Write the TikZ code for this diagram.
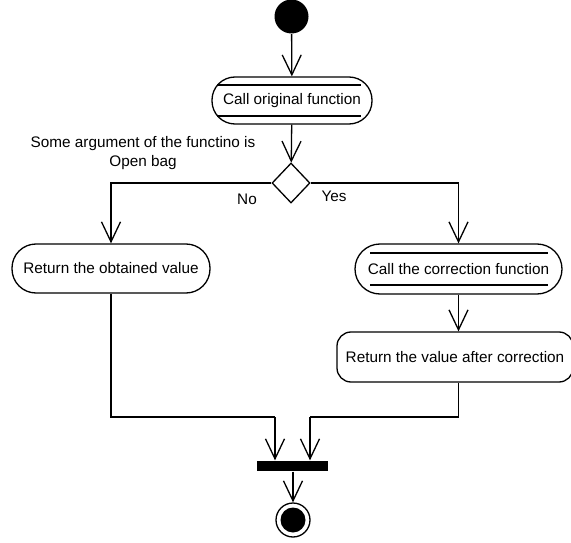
\documentclass[tikz,border=0pt]{standalone}
\usepackage{fontspec}
\setmainfont{Liberation Sans}
\usetikzlibrary{arrows.meta,shapes.geometric}
\begin{document}
\begin{tikzpicture}[x=1pt,y=-1pt,
  line width=1.3pt,
  every node/.style={font=\fontsize{15.3}{18.5}\selectfont},
  arr/.style={-{Straight Barb[length=20pt,width=19pt,line width=1.3pt]}},
  activity/.style={draw,rounded corners=#1,inner sep=0pt},
  solid dot/.style={circle,fill=black,inner sep=0pt,minimum size=#1}
]
\useasboundingbox (0,0) rectangle (571,543);

% initial node
\node[solid dot=34pt] (start) at (291.5,16.5) {};

% call of the original function (subactivity with double bars)
\node[activity=23pt,minimum width=160pt,minimum height=47pt] (call) at (292,100.5) {Call original function};
\draw (217,85) -- (361,85);
\draw (217,116) -- (361,116);

% decision
\node[diamond,draw,inner sep=0pt,minimum width=38pt,minimum height=40pt] (dec) at (291,183) {};
\node[align=center] (cond) at (143,153) {Some argument of the functino is\\Open bag};
\node (no) at (247,199.5) {No};
\node (yes) at (334,196.5) {Yes};

% left branch
\node[activity=24pt,minimum width=198pt,minimum height=49pt] (ret) at (111,268.5) {Return the obtained value};

% right branch
\node[activity=25pt,minimum width=207pt,minimum height=50pt] (corr) at (458.5,269) {Call the correction function};
\draw (370,253) -- (548,253);
\draw (370,285) -- (548,285);
\node[activity=14pt,minimum width=236pt,minimum height=50pt] (retc) at (455,357) {Return the value after correction};

% join bar and final node
\node[fill=black,inner sep=0pt,minimum width=71pt,minimum height=10pt] (bar) at (292.5,466) {};
\node[circle,draw,inner sep=0pt,minimum size=34pt] (final) at (293,520) {};
\node[solid dot=25pt] (finaldot) at (final.center) {};

\coordinate (jl) at (275,417);
\coordinate (jr) at (310,417);

% flows
\draw[arr] (start) -- (call);
\draw[arr] (call) -- (dec);
\draw[arr] (dec.west) -| (ret.north);
\draw[arr] (dec.east) -| (corr.north);
\draw[arr] (corr.south) -- (corr.south |- retc.north);
\draw (ret.south) |- (jl);
\draw[arr] (jl) -- (jl |- bar.north);
\draw (corr.south |- retc.south) |- (jr);
\draw[arr] (jr) -- (jr |- bar.north);
\draw[arr] (bar.south -| final.north) -- (final.north);
\end{tikzpicture}
\end{document}
